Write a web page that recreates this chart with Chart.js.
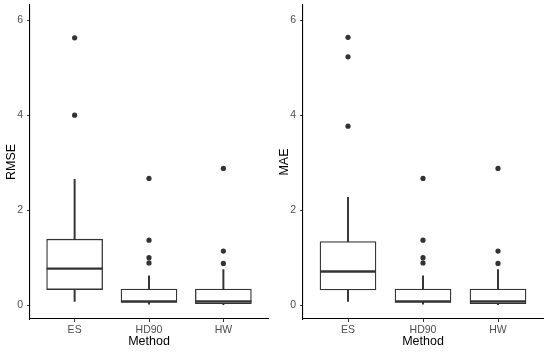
<!DOCTYPE html>
<html><head><meta charset="utf-8">
<script src="https://cdn.jsdelivr.net/npm/chart.js@4.4.0/dist/chart.umd.min.js"></script>
<style>
body{margin:0;background:#fff}
#wrap{position:relative;width:550px;height:352px;background:#fff}
canvas{position:absolute;top:0}
</style>
</head><body>
<div id="wrap">
<canvas id="c1" width="273" height="352" style="left:0"></canvas>
<canvas id="c2" width="277" height="352" style="left:273px"></canvas>
</div>
<script>
const categories = ['ES', 'HD90', 'HW'];
const yTicks = [0, 2, 4, 6];

// RMSE boxplot statistics
const rmseLower  = [0.08, 0.02, 0.01];
const rmseQ1     = [0.33, 0.06, 0.035];
const rmseMedian = [0.77, 0.08, 0.08];
const rmseQ3     = [1.39, 0.34, 0.34];
const rmseUpper  = [2.65, 0.62, 0.75];
const rmseOutliers = [[5.63, 4.0], [2.67, 1.37, 1.0, 0.89], [2.88, 1.14, 0.88]];

// MAE boxplot statistics
const maeLower  = [0.08, 0.02, 0.01];
const maeQ1     = [0.32, 0.06, 0.035];
const maeMedian = [0.71, 0.08, 0.08];
const maeQ3     = [1.34, 0.34, 0.34];
const maeUpper  = [2.27, 0.62, 0.75];
const maeOutliers = [[5.64, 5.23, 3.77], [2.67, 1.37, 1.0, 0.89], [2.88, 1.14, 0.88]];

const FONT = "'Liberation Sans', Arial, Helvetica, sans-serif";
const DARK = '#333333';

function makeChart(id, yTitle, lower, q1, med, q3, upper, outl, padRight) {
  const pos = categories.map((c, i) => i + 1);
  const boxData = pos.map((x, i) => ({x: x, y: [q1[i], q3[i]]}));
  const whLow = pos.map((x, i) => ({x: x, y: [lower[i], q1[i]]}));
  const whHigh = pos.map((x, i) => ({x: x, y: [q3[i], upper[i]]}));
  const medData = pos.map((x, i) => ({x: x, y: med[i]}));
  const outData = [];
  outl.forEach((arr, i) => arr.forEach(v => outData.push({x: pos[i], y: v})));

  new Chart(document.getElementById(id), {
    type: 'bar',
    data: {
      datasets: [
        {type: 'line', data: outData, showLine: false, pointRadius: 2.6,
         pointBackgroundColor: DARK, pointBorderColor: DARK, pointBorderWidth: 0, order: 0},
        {type: 'line', data: medData, showLine: false, pointStyle: 'line', pointRadius: 28,
         pointBorderColor: DARK, pointBorderWidth: 2.4, order: 1},
        {data: boxData, backgroundColor: '#ffffff', borderColor: DARK, borderWidth: 1.3,
         borderSkipped: false, barThickness: 56, grouped: false, order: 2},
        {data: whLow, backgroundColor: DARK, borderWidth: 0, barThickness: 1.3, grouped: false, order: 3},
        {data: whHigh, backgroundColor: DARK, borderWidth: 0, barThickness: 1.3, grouped: false, order: 3}
      ]
    },
    options: {
      responsive: false,
      animation: false,
      events: [],
      layout: {autoPadding: false, padding: {top: 5, right: padRight, left: 0, bottom: 0}},
      plugins: {legend: {display: false}, tooltip: {enabled: false}},
      scales: {
        x: {
          type: 'linear', min: 0.4, max: 3.6, offset: false,
          afterBuildTicks: s => { s.ticks = pos.map(v => ({value: v})); },
          afterFit: s => { s.height = 33; s.paddingLeft = 0; s.paddingRight = 0; },
          grid: {display: true, offset: false, drawOnChartArea: false, drawTicks: true, tickLength: 3, color: DARK},
          border: {display: true, color: '#000000', width: 1.1},
          ticks: {callback: v => categories[v - 1], color: '#4d4d4d', padding: 2,
                  font: {family: FONT, size: 10.5}, maxRotation: 0, autoSkip: false},
          title: {display: true, text: 'Method', color: '#000000',
                  font: {family: FONT, size: 12.5}, padding: {top: 0, bottom: 3}}
        },
        y: {
          type: 'linear', min: -0.29, max: 6.32,
          afterBuildTicks: s => { s.ticks = yTicks.map(v => ({value: v})); },
          afterFit: s => { s.width = 30; s.paddingTop = 0; s.paddingBottom = 0; },
          grid: {display: true, drawOnChartArea: false, drawTicks: true, tickLength: 3, color: DARK},
          border: {display: true, color: '#000000', width: 1.1},
          ticks: {color: '#4d4d4d', padding: 4, font: {family: FONT, size: 10.5}},
          title: {display: true, text: yTitle, color: '#000000',
                  font: {family: FONT, size: 12.5}, padding: {top: 4, bottom: 0}}
        }
      }
    }
  });
}

makeChart('c1', 'RMSE', rmseLower, rmseQ1, rmseMedian, rmseQ3, rmseUpper, rmseOutliers, 5);
makeChart('c2', 'MAE', maeLower, maeQ1, maeMedian, maeQ3, maeUpper, maeOutliers, 7);
</script>
</body></html>
